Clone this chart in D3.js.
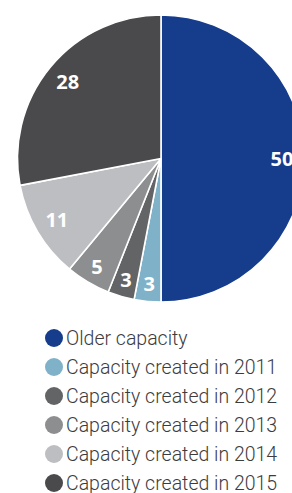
<!DOCTYPE html>
<html>
<head>
<meta charset="utf-8">
<script src="https://cdn.jsdelivr.net/npm/d3@7"></script>
<style>
  html, body { margin: 0; padding: 0; background: #fff; overflow: hidden; }
  svg { display: block; }
</style>
</head>
<body>
<div id="chart"></div>
<script>
var categories = ["Older capacity", "Capacity created in 2011", "Capacity created in 2012",
                  "Capacity created in 2013", "Capacity created in 2014", "Capacity created in 2015"];
var values = [50, 3, 3, 5, 11, 28];
var colors = ["#163c8c", "#7fb1c9", "#636466", "#8d8e90", "#bdbec1", "#4a4a4c"];

var w = 292, h = 493;
var cx = 161, cy = 158.5, r = 143.5;

var svg = d3.select("#chart").append("svg")
    .attr("width", w)
    .attr("height", h);

var pie = d3.pie().sort(null).value(function(d) { return d; });
var arcs = pie(values);

var arc = d3.arc().innerRadius(0).outerRadius(r);
// small slices get their label pushed a bit further out
var labelArc = function(d) {
  var lr = (d.value <= 5) ? 126 : 121;
  return d3.arc().innerRadius(lr).outerRadius(lr).centroid(d);
};

var g = svg.append("g").attr("transform", "translate(" + cx + "," + cy + ")");

g.selectAll("path.slice")
    .data(arcs)
  .enter().append("path")
    .attr("class", "slice")
    .attr("d", arc)
    .attr("fill", function(d, i) { return colors[i]; })
    .attr("stroke", "#fff")
    .attr("stroke-width", 1.6)
    .attr("stroke-linejoin", "round");

g.selectAll("text.lbl")
    .data(arcs)
  .enter().append("text")
    .attr("class", "lbl")
    .attr("transform", function(d) { return "translate(" + labelArc(d) + ")"; })
    .attr("text-anchor", "middle")
    .attr("dy", "0.36em")
    .attr("fill", "#fff")
    .attr("font-family", "'Open Sans', sans-serif")
    .attr("font-weight", 700)
    .attr("font-size", "20px")
    .text(function(d) { return d.value; });

// legend
var legendY = d3.scaleBand().domain(categories).range([323.5, 497.5]);

var leg = svg.selectAll("g.leg")
    .data(categories)
  .enter().append("g")
    .attr("class", "leg")
    .attr("transform", function(d) { return "translate(0," + (legendY(d) + legendY.bandwidth() / 2) + ")"; });

leg.append("circle")
    .attr("cx", 54)
    .attr("cy", 0)
    .attr("r", 9)
    .attr("fill", function(d, i) { return colors[i]; });

leg.append("text")
    .attr("x", 66)
    .attr("y", 0)
    .attr("dy", "0.35em")
    .attr("fill", "#3c3c3e")
    .attr("font-family", "Roboto, sans-serif")
    .attr("font-weight", 300)
    .attr("font-size", "19.5px")
    .text(function(d) { return d; });
</script>
</body>
</html>
